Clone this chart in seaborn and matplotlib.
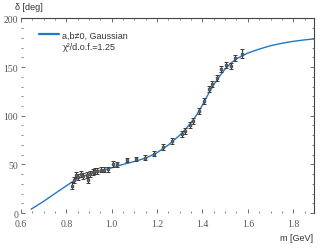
import numpy
import pandas
import seaborn as sns
import matplotlib
import matplotlib.pyplot as plt
from matplotlib.lines import Line2D
from matplotlib.ticker import MultipleLocator
plt.switch_backend('agg')

# measured phase shifts
m_data = [0.824, 0.834, 0.842, 0.853, 0.864, 0.875, 0.890, 0.896, 0.905, 0.916,
          0.927, 0.937, 0.952, 0.967, 0.985, 1.007, 1.025, 1.066, 1.107, 1.146,
          1.187, 1.227, 1.266, 1.308, 1.325, 1.344, 1.359, 1.385, 1.407, 1.428,
          1.444, 1.466, 1.484, 1.506, 1.524, 1.545, 1.574]
delta_data = [28, 34, 39, 36.7, 40, 38, 39, 34, 40, 42,
              43.5, 43.5, 44.5, 44.5, 45, 50, 50, 54.5, 55.5, 57,
              61, 68, 74, 81, 84.6, 90.5, 95, 105, 115.5, 127.5,
              132.6, 139, 148, 152, 151.5, 159, 164]
delta_err = [3.5, 3, 3, 3, 3, 3, 3, 3.5, 3, 3,
             3, 3, 2.5, 2.5, 2.5, 3, 2.5, 2.5, 2.5, 2.5,
             2.5, 3, 3, 3, 3, 3, 3, 3, 3, 3,
             3, 3, 3, 3, 3, 3, 5]

# fit curve
m_fit = [0.645, 0.70, 0.75, 0.80, 0.85, 0.90, 0.95, 1.00, 1.05, 1.10, 1.15,
         1.20, 1.25, 1.30, 1.325, 1.35, 1.375, 1.40, 1.425, 1.45, 1.475,
         1.50, 1.525, 1.55, 1.60, 1.65, 1.70, 1.75, 1.80, 1.85, 1.892]
delta_fit = [4, 12, 20, 28, 35.5, 40, 43.5, 46.5, 50, 53, 56.5,
             62, 70, 80, 86, 93, 101, 111, 122, 132, 140.5,
             148, 154, 158.5, 164.5, 168.5, 172, 174.5, 176.5, 178, 179]

fit = pandas.DataFrame({'m': m_fit, 'delta': delta_fit})

sns.set_theme(style="ticks")
plt.rcParams['font.family'] = ['Liberation Sans', 'DejaVu Sans']

fig = plt.figure(figsize=(3.32, 2.53), dpi=100)
ax = fig.add_axes([0.063, 0.154, 0.883, 0.769])

sns.lineplot(data=fit, x='m', y='delta', ax=ax, color='#1f78c8', linewidth=1.0)
ax.errorbar(m_data, delta_data, yerr=delta_err, fmt='s', ms=1.8, color='#3a3a3a',
            mfc='#888888', mec='#555555', elinewidth=0.8, capsize=1.3, capthick=0.7, zorder=3)

ax.set_xlim(0.6, 1.892)
ax.set_ylim(0, 200)
ax.xaxis.set_major_locator(MultipleLocator(0.2))
ax.xaxis.set_minor_locator(MultipleLocator(0.05))
ax.yaxis.set_major_locator(MultipleLocator(50))
ax.yaxis.set_minor_locator(MultipleLocator(10))
ax.tick_params(which='both', direction='in', top=True, right=True, color='#555555',
               labelsize=7, labelcolor='#555555')
ax.tick_params(axis='x', pad=4)
ax.tick_params(axis='y', pad=2)
ax.tick_params(which='major', length=3, width=0.6)
ax.tick_params(which='minor', length=1.5, width=0.5)
for lab in ax.get_xticklabels() + ax.get_yticklabels():
    lab.set_fontfamily('Liberation Serif')
ax.spines['left'].set_visible(False)
ax.spines['bottom'].set_visible(False)
ax.spines['top'].set_color('#444444')
ax.spines['right'].set_color('#444444')
ax.spines['top'].set_linewidth(0.8)
ax.spines['right'].set_linewidth(0.8)

ax.set_xlabel('')
ax.set_ylabel('')
fig.text(0.045, 0.972, 'δ [deg]', fontsize=6.5, color='#333333', va='center', ha='left')
fig.text(0.943, 0.058, 'm [GeV]', fontsize=6.5, color='#333333', va='center', ha='right')

handles = [Line2D([], [], color='#1f78c8', linewidth=1.6), Line2D([], [], linestyle='none')]
ax.legend(handles, ['a,b≠0, Gaussian', 'χ²/d.o.f.=1.25'], loc='upper left',
          bbox_to_anchor=(0.04, 0.97), frameon=False, fontsize=6.5, handlelength=2.2,
          handletextpad=0.4, labelspacing=0.3, borderpad=0.2, labelcolor='#333333')

fig.savefig('out.png', dpi=100)
